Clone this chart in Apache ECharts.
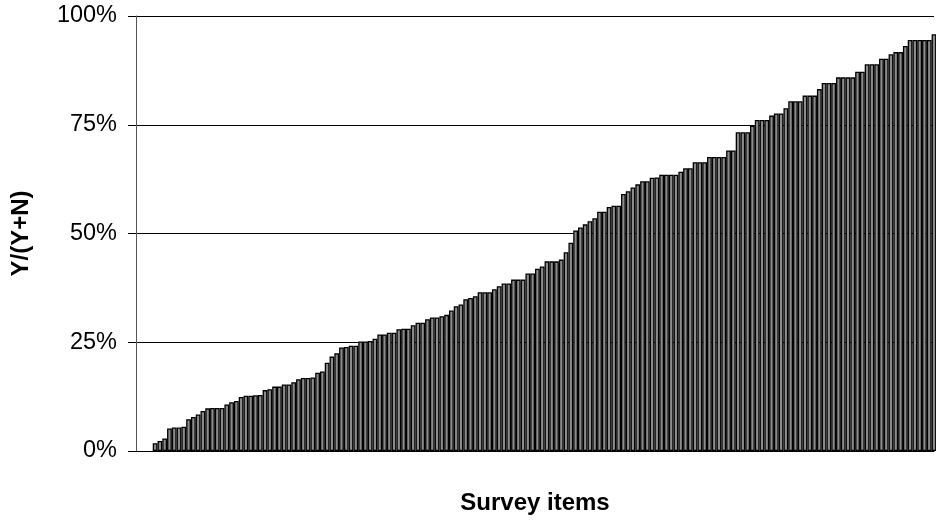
<!DOCTYPE html>
<html>
<head>
<meta charset="utf-8">
<script src="https://cdn.jsdelivr.net/npm/echarts@6/dist/echarts.min.js"></script>
<style>
  html, body { margin: 0; padding: 0; background: #ffffff; }
  #chart { width: 936px; height: 520px; }
</style>
</head>
<body>
<div id="chart"></div>
<script>
// Share of "Y" answers, Y/(Y+N), per survey item (percent), sorted ascending
var itemValues = [
  1.8, 2.3, 2.9, 5.2, 5.4, 5.4, 5.6, 7.3, 7.8, 8.4,
  9.2, 9.8, 9.9, 9.9, 9.9, 10.7, 11.2, 11.5, 12.4, 12.7,
  12.7, 12.8, 12.9,
  14.0, 14.2, 14.8, 14.8, 15.3, 15.3, 15.8, 16.5, 16.8, 16.8,
  16.9, 18.0, 18.3, 20.3, 21.7, 22.5, 23.8, 23.9, 24.2, 24.2,
  25.2, 25.2, 25.3, 25.8, 26.8, 26.8, 27.2, 27.2,
  28.0, 28.1, 28.1, 28.9, 29.5, 29.5, 30.3, 30.7, 30.7, 31.0,
  31.3, 32.3, 33.3, 33.7, 34.9, 35.2, 35.6, 36.5, 36.5, 36.5,
  37.2, 37.9, 38.5, 38.5, 39.4, 39.4, 39.4,
  40.8, 40.8, 41.9, 42.4, 43.6, 43.6, 43.6, 44.0, 45.7, 47.9,
  50.7, 51.4, 52.1, 52.8, 53.5, 55.0, 55.0, 56.1, 56.4, 56.4,
  59.1, 59.7, 60.6, 61.3, 62.0, 62.0,
  62.8, 62.9, 63.5, 63.5, 63.5, 63.5, 64.2, 65.0, 65.0, 66.4,
  66.4, 66.4, 67.6, 67.6, 67.6, 67.6, 69.1, 69.1, 73.3, 73.3,
  73.3, 74.8, 76.1, 76.1, 76.1, 77.1, 77.6, 77.6,
  78.8, 80.4, 80.4, 80.4, 81.7, 81.7, 81.7, 83.2, 84.6, 84.6,
  84.6, 85.9, 85.9, 85.9, 85.9, 87.2, 87.2, 88.9, 88.9, 88.9,
  90.2, 90.2, 91.2, 91.7, 91.7, 93.1, 94.5, 94.5, 94.5, 94.5,
  94.5, 95.8
];
var yTicks = [0, 25, 50, 75, 100];
var yAxisTitle = 'Y/(Y+N)';
var xAxisTitle = 'Survey items';

// empty slots at the start of the category axis (as in the original chart)
var leadingEmptySlots = 4;

var categories = [];
var seriesData = [];
for (var k = 0; k < leadingEmptySlots; k++) { categories.push(''); seriesData.push(null); }
for (var i = 0; i < itemValues.length; i++) { categories.push('Item ' + (i + 1)); seriesData.push(itemValues[i]); }

var chart = echarts.init(document.getElementById('chart'), null, { renderer: 'canvas' });
chart.setOption({
  animation: false,
  backgroundColor: '#ffffff',
  grid: { left: 136, right: 2, top: 16, bottom: 68, containLabel: false },
  xAxis: {
    type: 'category',
    data: categories,
    boundaryGap: false,
    name: xAxisTitle,
    nameLocation: 'middle',
    nameGap: 40,
    nameTextStyle: { fontFamily: 'Liberation Sans, Arial, sans-serif', fontSize: 24, fontWeight: 'bold', color: '#000' },
    axisLine: { show: true, lineStyle: { color: '#000', width: 1 } },
    axisTick: { show: false },
    axisLabel: { show: false },
    splitLine: { show: false }
  },
  yAxis: {
    type: 'value',
    min: yTicks[0],
    max: yTicks[yTicks.length - 1],
    interval: yTicks[1] - yTicks[0],
    name: yAxisTitle,
    nameLocation: 'middle',
    nameGap: 103,
    nameRotate: 90,
    nameTextStyle: { fontFamily: 'Liberation Sans, Arial, sans-serif', fontSize: 24, fontWeight: 'bold', color: '#000' },
    axisLine: { show: true, lineStyle: { color: '#555', width: 1 } },
    axisTick: { show: true, inside: false, length: 8, lineStyle: { color: '#000', width: 1 } },
    axisLabel: {
      formatter: '{value}%',
      margin: 19,
      fontFamily: 'Liberation Sans, Arial, sans-serif',
      fontSize: 23.5,
      color: '#000'
    },
    splitLine: { show: true, lineStyle: { color: '#000', width: 1 } }
  },
  series: [{
    type: 'bar',
    data: seriesData,
    barCategoryGap: '0%',
    itemStyle: { color: '#8c8c8c', borderColor: '#000', borderWidth: 1.3 }
  }]
});
</script>
</body>
</html>
